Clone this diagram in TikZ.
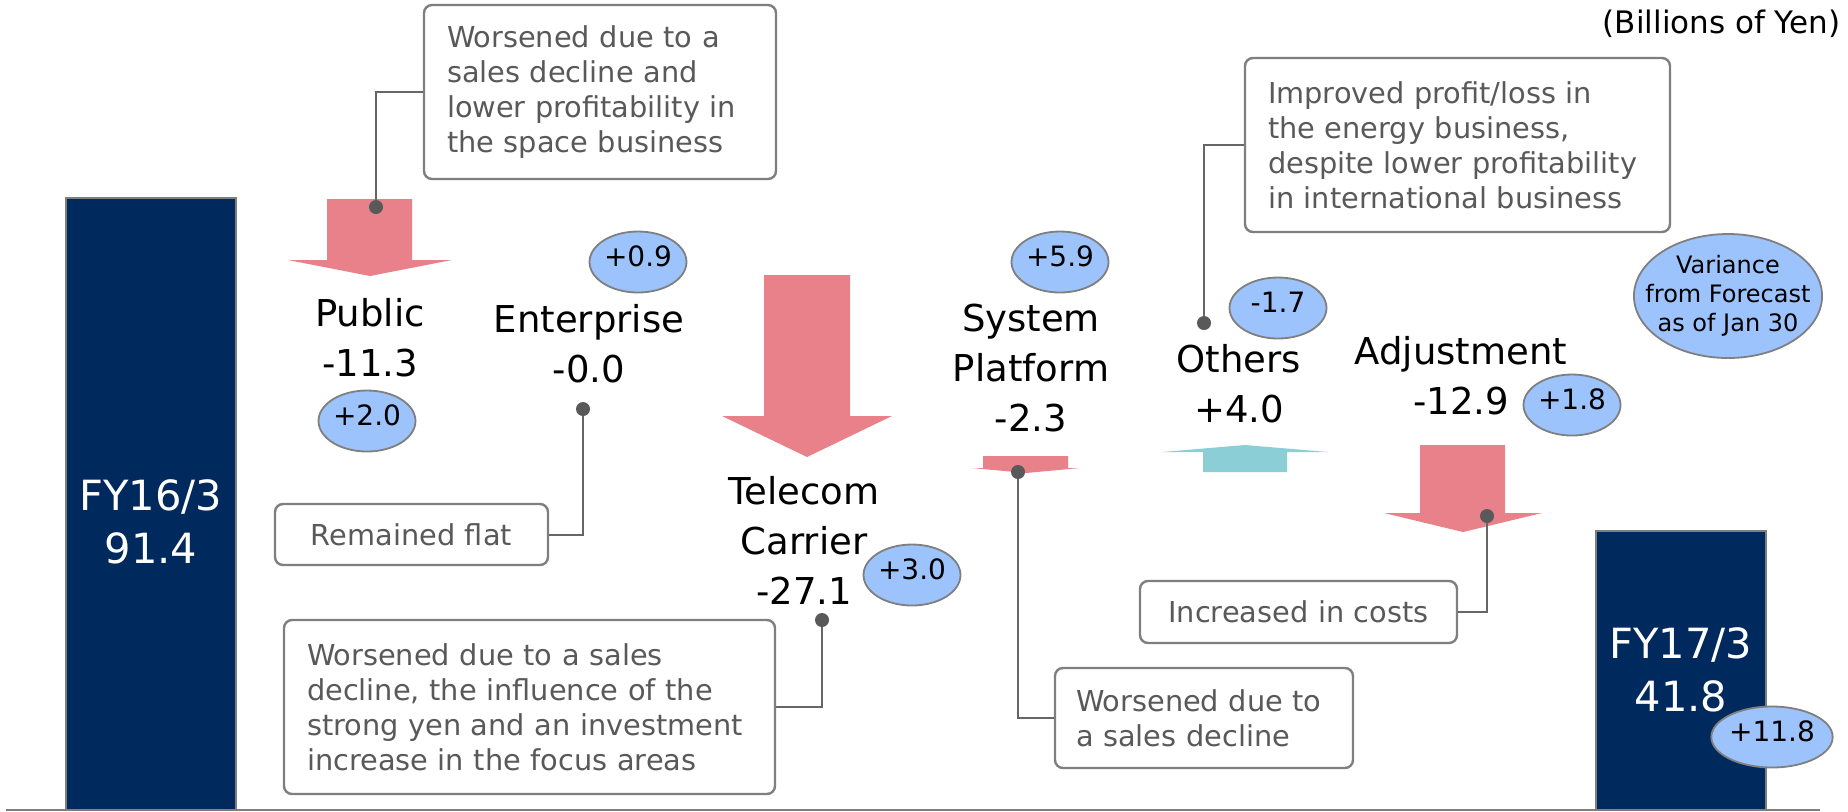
\documentclass[tikz,border=0pt]{standalone}
\usepackage{fontspec}
\setmainfont{DejaVu Sans}
\usepackage{xcolor}
\usetikzlibrary{shapes.geometric}
\definecolor{navy}{HTML}{002A5E}
\definecolor{rimgray}{HTML}{7F7F7F}
\definecolor{downred}{HTML}{E8818A}
\definecolor{upteal}{HTML}{8BCED6}
\definecolor{bubble}{HTML}{9CC3FC}
\definecolor{notegray}{HTML}{595959}
\definecolor{leadgray}{HTML}{666666}
\tikzset{
  fybar/.style={draw=rimgray,fill=navy,line width=1.3pt},
  fylbl/.style={text=white,align=center,font=\fontsize{20.8}{26.5}\selectfont},
  seglbl/.style={align=center,font=\fontsize{18.5}{25}\selectfont},
  bubblebase/.style={ellipse,draw=rimgray,fill=bubble,line width=0.9pt,inner sep=0pt},
  varbub/.style={bubblebase,minimum width=48.5pt,minimum height=30.5pt,text height=6pt,text depth=1.8pt,font=\fontsize{14}{16}\selectfont},
  notebox/.style={draw=rimgray,fill=white,rounded corners=4pt,line width=1.2pt,text=notegray,align=left,inner xsep=11.5pt,inner ysep=0pt,font=\fontsize{14.4}{17.5}\selectfont},
  tipdot/.style={circle,fill=notegray,minimum size=7pt,inner sep=0pt},
  lead/.style={draw=leadgray,line width=1pt}
}
\begin{document}
\begin{tikzpicture}[x=0.5pt,y=-0.5pt]
  \useasboundingbox (0,0) rectangle (1848,811);
  % start and end bars
  \draw[fybar] (66,198) rectangle (236,810);
  \draw[fybar] (1596,531) rectangle (1766,810);
  \draw[draw=rimgray,line width=1pt] (6,810) -- (1820,810);
  \node[fylbl] (tOld) at (151,522) {FY16/3\\91.4};
  \node[fylbl] (tNew) at (1681,670) {FY17/3\\41.8};
  % segment arrows (down = worse)
  \foreach \xl/\xr/\ya/\yb/\hl/\hr/\yc in {327/412/199/260/288/452/276, 764/850/275/416/722/892/457,
      983/1068/456/468/972/1080/473, 1420/1505/445/513/1384/1542/532}
    \fill[downred] (\xl,\ya) -- (\xr,\ya) -- (\xr,\yb) -- (\hr,\yb) -- ({(\hl+\hr)/2},\yc)
      -- (\hl,\yb) -- (\xl,\yb) -- cycle;
  \fill[upteal] (1203,472) -- (1287,472) -- (1287,452) -- (1328,452) -- (1245,445)
    -- (1162,452) -- (1203,452) -- cycle;
  % segment names and amounts
  \node[seglbl] (sPub) at (370,338) {Public\\-11.3};
  \node[seglbl] (sEnt) at (589,344) {Enterprise\\-0.0};
  \node[seglbl] (sTel) at (804,540) {Telecom\\Carrier\\-27.1};
  \node[seglbl] (sSys) at (1031,368) {System\\Platform\\-2.3};
  \node[seglbl] (sOth) at (1239,384) {Others\\+4.0};
  \node[seglbl] (sAdj) at (1461,376) {Adjustment\\-12.9};
  \node[anchor=east,inner sep=0pt,font=\fontsize{15.5}{17}\selectfont] (unit) at (1841,24) {(Billions of Yen)};
  % variance bubbles
  \node[varbub] (bPub) at (367,421) {+2.0};
  \node[varbub] (bEnt) at (638,262) {+0.9};
  \node[varbub] (bTel) at (912,575) {+3.0};
  \node[varbub] (bSys) at (1060,262) {+5.9};
  \node[varbub] (bOth) at (1278,308) {-1.7};
  \node[varbub] (bAdj) at (1572,405) {+1.8};
  \node[varbub] (bEnd) at (1772,737) {+11.8};
  \node[bubblebase,inner xsep=-8pt,minimum width=94pt,minimum height=62pt,align=center,font=\fontsize{12}{14.5}\selectfont] (bKey) at (1728,296) {Variance\\from Forecast\\as of Jan 30};
  % comment boxes
  \node[notebox,text width=153pt,minimum height=87pt] (nPub) at (600,92) {Worsened due to a\\sales decline and\\lower profitability in\\the space business};
  \node[notebox,align=center,text width=113.5pt,minimum height=30.5pt] (nEnt) at (411.5,534.5) {Remained flat};
  \node[notebox,text width=222.5pt,minimum height=87pt] (nTel) at (529.5,707) {Worsened due to a sales\\decline, the influence of the\\strong yen and an investment\\increase in the focus areas};
  \node[notebox,inner xsep=10.5pt,text width=128pt,minimum height=50pt] (nSys) at (1204,718) {Worsened due to\\a sales decline};
  \node[notebox,text width=189.5pt,minimum height=87pt] (nOth) at (1457.5,145) {Improved profit/loss in\\the energy business,\\despite lower profitability\\in international business};
  \node[notebox,align=center,text width=135.5pt,minimum height=31pt] (nAdj) at (1298.5,612) {Increased in costs};
  % pins and leaders
  \node[tipdot] (dPub) at (376,207) {};
  \node[tipdot] (dEnt) at (583,409) {};
  \node[tipdot] (dTel) at (822,620) {};
  \node[tipdot] (dSys) at (1018,472) {};
  \node[tipdot] (dOth) at (1204,323) {};
  \node[tipdot] (dAdj) at (1487,516) {};
  \foreach \d/\n in {dPub/nPub,dEnt/nEnt,dTel/nTel,dSys/nSys,dOth/nOth,dAdj/nAdj}
    \draw[lead] (\d) |- (\n);
\end{tikzpicture}
\end{document}
